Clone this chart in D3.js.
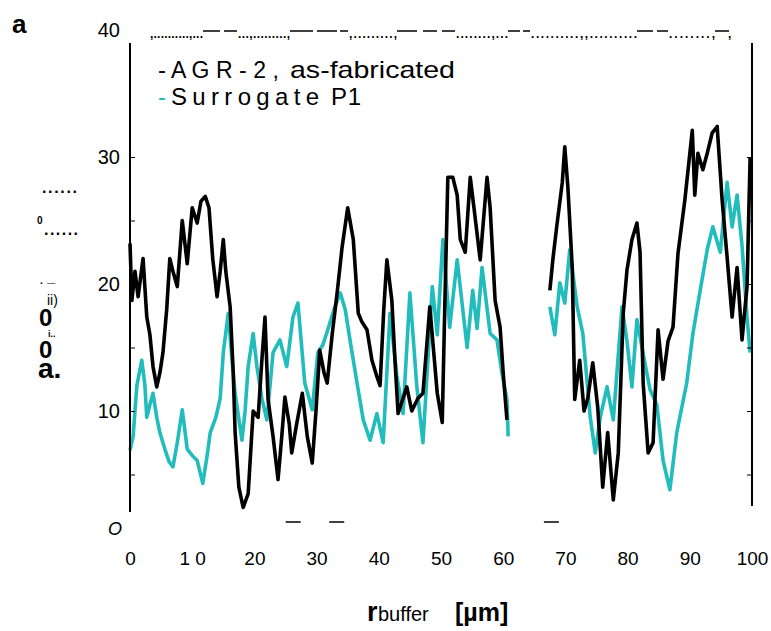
<!DOCTYPE html>
<html>
<head>
<meta charset="utf-8">
<script src="https://cdn.jsdelivr.net/npm/d3@7"></script>
<style>
  body { margin: 0; background: #fff; }
  svg { font-family: "Liberation Sans", Arial, sans-serif; }
</style>
</head>
<body>
<svg width="771" height="631"></svg>
<script>
// x positions (µm) and values for each trace, two segments each (gap around 61-67)
const agrX1 = [0,0.3,0.8,1.3,2.1,2.7,3.2,3.7,4.3,4.8,5.3,5.9,6.4,6.9,7.6,8.4,9.2,10,10.8,11.4,12.1,12.7,13.3,14,14.5,15,15.4,16.1,16.6,16.9,17.5,18.2,19,19.8,20.6,21.2,21.7,22.2,23,23.8,24.4,24.9,25.6,26,26.8,27.7,28.5,29.3,29.9,30.5,31.2,31.7,32.5,33.3,34.1,35,35.9,36.7,37.3,38.1,38.9,39.7,40.2,40.8,41.3,42.1,42.6,43.1,43.9,44.5,45.3,46.3,47.1,48.2,49.4,50.2,50.6,51.1,51.9,52.6,53.1,53.9,54.7,55.3,56.3,57.4,57.9,58.7,59.5,60,60.6];
const agrY1 = [23.2,18.7,21,19,22,17.4,16,13.5,11.9,13,14.6,18,22,21,19.8,25,21.6,26,24.8,26.5,26.9,26,22,19,21,23.5,21,18.2,13,8.3,4,2.4,3.5,10,9.5,14,17.4,10.9,8,4.6,8,11.1,9,6.7,9,11.4,8,5.9,10,14.8,13,12.2,16,19.3,22.9,26,23.5,17.7,17,16.4,14,12.7,12,18,21.9,18.7,14,9.8,11,11.9,10,11,11.4,18.2,11.4,9.1,18,28.4,28.4,27,23.5,22.5,28.4,26,21.9,28.4,26,18.7,16.6,13,9.3];
const agrX2 = [67.5,68,68.6,69.5,69.9,70.4,71.1,71.5,72.3,73,73.6,74.4,75.2,76,76.8,77.7,78.5,79.3,79.9,80.7,81.5,82,82.5,83.3,84.1,84.9,85.7,86.5,87.3,88.1,89.2,90.4,90.8,91.3,92.1,92.8,93.6,94.4,95.2,96,96.8,97.6,98.4,99.2,99.7];
const agrY2 = [19.5,22,24.5,28,30.8,27.6,21.3,10.9,14,10,11,13.8,10.3,4,8.3,3,6.7,17.7,21.1,23.5,24.8,22.5,12.2,6.7,7.5,16.4,12.5,15.5,16.6,22.4,26.6,32.1,27,30.3,29,30.3,31.9,32.4,26.6,22.1,17.4,21.3,15.6,19.8,30];

const surX1 = [0,0.5,1.1,1.9,2.4,2.7,3.2,3.7,4.3,4.8,5.6,6.3,6.9,7.6,8.4,9.2,10,10.8,11.7,12.4,12.9,13.8,14.5,15,15.8,16.4,16.9,18,18.5,19,19.8,20.4,21.2,22,23,24.1,25.2,26.2,27,28.1,29.3,30.2,31,31.8,32.8,33.8,34.6,35.4,36.5,37.5,38.6,39.7,40.7,41.8,42.9,43.9,45,46.1,47.1,48.6,49.4,50.3,51.4,52.6,53.5,54.2,55.1,55.8,56.6,57.9,59,59.8,60.6,60.8];
const surY1 = [6.9,8,12,14,12,9.5,10.5,11.4,9.5,8.3,7,6,5.6,7.5,10.1,7,6.5,6.1,4.3,6.5,8.3,9.5,11,14.6,17.7,14,11.4,7.7,10,13.5,16.1,13.5,11,9.3,14.6,15.6,13.5,17.4,18.5,12.2,10.1,14.6,15.2,16.4,18,19.3,18,15.5,12.2,9.3,7.7,9.8,7.5,17.7,12.8,9.8,19.3,12,7.5,19.8,16,23.5,16.6,21.9,18,15,19.5,16.5,21.3,16.1,15.6,13,10.9,8];
const surX2 = [67.5,68.3,69.1,69.9,70.7,71.9,72.8,74,74.8,75.6,76.7,77.7,79.1,79.9,80.7,81.5,82.5,83.6,84.7,85.7,86.8,87.9,89.5,90.5,91.6,92.8,93.7,94.9,96,96.8,97.6,98.4,99.2,99.7];
const surY2 = [18.2,16,20.1,18.5,22.7,18.2,16.1,9.5,6.7,9.5,11.9,9.3,18.2,15.5,11.9,17.2,14.5,11.7,10.5,6.1,3.8,8.3,12.2,16.1,19.3,22.7,24.5,22.5,28,24.5,27,23,17.4,14.6];

const xTicks = [0,10,20,30,40,50,60,70,80,90,100];
const xTickLabels = ["0","1 0","20","30","40","50","60","70","80","90","100"];
const yTicks = [10,20,30,40];
const minorTicks = [5,10,15,20,25,30];

const svg = d3.select("svg");

const x = d3.scaleLinear().domain([0, 100]).range([130, 752]);
const y = d3.scaleLinear().domain([0, 40]).range([538, 30]);

const zip = (xs, ys) => xs.map((d, i) => [d, ys[i]]);
const line = d3.line().x(d => x(d[0])).y(d => y(d[1]));

// traces
const traces = [
  {data: zip(surX1, surY1), color: "#22bcbc"},
  {data: zip(surX2, surY2), color: "#22bcbc"},
  {data: zip(agrX1, agrY1), color: "#000"},
  {data: zip(agrX2, agrY2), color: "#000"}
];
svg.append("g").selectAll("path")
  .data(traces)
  .join("path")
  .attr("d", d => line(d.data))
  .attr("fill", "none")
  .attr("stroke", d => d.color)
  .attr("stroke-width", 3.6)
  .attr("stroke-linejoin", "round");

// frame lines
svg.append("line").attr("x1", 130).attr("x2", 130).attr("y1", 43).attr("y2", 512)
  .attr("stroke", "#000").attr("stroke-width", 2);
svg.append("line").attr("x1", 752).attr("x2", 752).attr("y1", 43).attr("y2", 506)
  .attr("stroke", "#000").attr("stroke-width", 2);

// small inner ticks
svg.append("g").attr("transform", "translate(130,0)")
  .call(d3.axisRight(y).tickValues(minorTicks).tickSize(5).tickFormat(""))
  .call(g => g.select(".domain").remove());
svg.append("g").attr("transform", "translate(752,0)")
  .call(d3.axisLeft(y).tickValues(minorTicks).tickSize(5).tickFormat(""))
  .call(g => g.select(".domain").remove());

// y tick labels
svg.append("g").attr("transform", "translate(130,0)")
  .call(d3.axisLeft(y).tickValues(yTicks).tickSize(0).tickPadding(10))
  .call(g => g.select(".domain").remove())
  .call(g => g.selectAll("text").attr("font-size", 20).attr("font-family", "Liberation Sans, Arial").attr("fill", "#000"));

// x tick labels
svg.append("g").attr("transform", "translate(0,548)")
  .call(d3.axisBottom(x).tickValues(xTicks).tickSize(0).tickPadding(4)
    .tickFormat((d, i) => xTickLabels[i]))
  .call(g => g.select(".domain").remove())
  .call(g => g.selectAll("text").attr("font-size", 19).attr("font-family", "Liberation Sans, Arial").attr("fill", "#000"));

// panel letter
svg.append("text").attr("x", 12).attr("y", 33).attr("font-size", 26).attr("font-weight", "bold").text("a");

// dotted / dashed top row
const dotRuns = [
  [150, 203, ",..........,..."], [238, 290, "...,.........,"], [349, 397, ",.........,"],
  [456, 508, "........,..."], [531, 637, "..........,,.........."], [669, 715, "........,"]
];
const dashRuns = [[203,220],[224,237],[290,313],[317,337],[340,348],[397,417],[423,437],[442,455],
  [508,520],[523,530],[637,653],[657,668],[715,729]];
const topRow = svg.append("g");
topRow.selectAll("text").data(dotRuns).join("text")
  .attr("x", d => d[0]).attr("y", 38).attr("font-size", 12).attr("font-weight", "bold")
  .attr("textLength", d => d[1] - d[0]).attr("lengthAdjust", "spacing")
  .text(d => d[2]);
topRow.selectAll("line").data(dashRuns).join("line")
  .attr("x1", d => d[0]).attr("x2", d => d[1]).attr("y1", 31).attr("y2", 31)
  .attr("stroke", "#000").attr("stroke-width", 1.5);
topRow.append("text").attr("x", 728).attr("y", 38).attr("font-size", 12).attr("font-weight", "bold").text(",");

// legend
const legend = svg.append("g").attr("font-size", 24);
const l1 = legend.append("text").attr("y", 78);
l1.append("tspan").attr("x", 158).text("-");
l1.append("tspan").attr("x", 171).attr("font-size", 23).attr("textLength", 108).attr("lengthAdjust", "spacing").text("A G R - 2 ,");
l1.append("tspan").attr("x", 290).attr("textLength", 165).attr("lengthAdjust", "spacingAndGlyphs").text("as-fabricated");
const l2 = legend.append("text").attr("y", 105);
l2.append("tspan").attr("x", 158).attr("fill", "#22bcbc").text("-");
l2.append("tspan").attr("x", 171).attr("textLength", 148).attr("lengthAdjust", "spacing").text("Surrogate");
l2.append("tspan").attr("x", 331).attr("textLength", 30).attr("lengthAdjust", "spacing").text("P1");

// scrambled y label
const yl = svg.append("g").attr("font-weight", "bold");
yl.append("text").attr("x", 42).attr("y", 193).attr("font-size", 16)
  .attr("textLength", 35).attr("lengthAdjust", "spacing").text("......");
yl.append("text").attr("x", 37).attr("y", 224).attr("font-size", 10).text("0");
yl.append("text").attr("x", 44).attr("y", 235).attr("font-size", 16)
  .attr("textLength", 34).attr("lengthAdjust", "spacing").text("......");
yl.append("text").attr("x", 40).attr("y", 287).attr("font-size", 10).text("·");
yl.append("text").attr("x", 47).attr("y", 294).attr("font-size", 15).text("¯");
yl.append("text").attr("x", 47).attr("y", 305).attr("font-size", 14).attr("font-weight", "normal").text("ii)");
yl.append("text").attr("x", 39).attr("y", 326).attr("font-size", 24).text("0");
yl.append("text").attr("x", 48).attr("y", 337).attr("font-size", 9).text("i..");
yl.append("text").attr("x", 39).attr("y", 358).attr("font-size", 24).text("0");
yl.append("text").attr("x", 38).attr("y", 378).attr("font-size", 28).text("a.");

// stray marks near the bottom
svg.append("text").attr("x", 108).attr("y", 535).attr("font-size", 18).attr("font-style", "italic").text("O");
const dashes = [26, 33, 67.5];
svg.append("g").selectAll("line").data(dashes).join("line")
  .attr("x1", d => x(d) - 6).attr("x2", d => x(d) + 9)
  .attr("y1", 522).attr("y2", 522)
  .attr("stroke", "#000").attr("stroke-width", 1.5);

// x axis title
const xt = svg.append("text").attr("y", 621).attr("font-weight", "bold");
xt.append("tspan").attr("x", 367).attr("font-size", 27).text("r");
xt.append("tspan").attr("x", 378).attr("font-size", 20).attr("font-weight", "normal").text("buffer");
xt.append("tspan").attr("x", 455).attr("font-size", 25).text("[µm]");
</script>
</body>
</html>
